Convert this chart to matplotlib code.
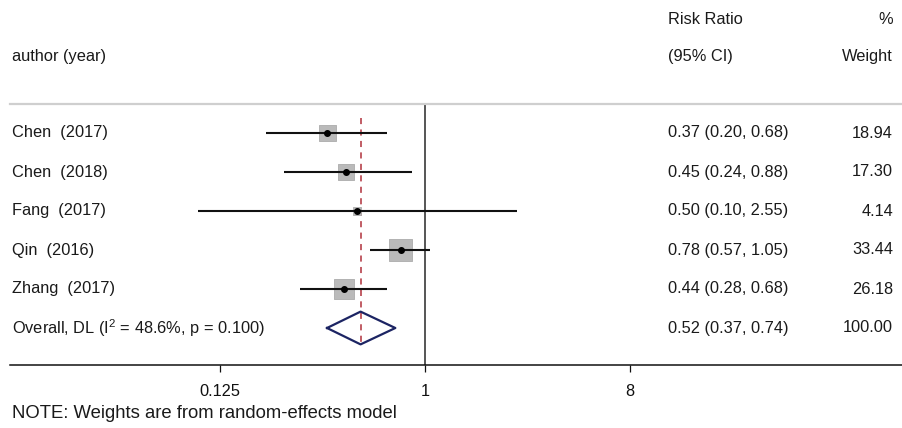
import numpy as np
import matplotlib
matplotlib.use("Agg")
import matplotlib.pyplot as plt
from matplotlib import transforms
from matplotlib.ticker import FixedLocator, FixedFormatter, NullLocator

plt.rcParams["font.family"] = ["Liberation Sans", "DejaVu Sans"]
plt.rcParams["mathtext.default"] = "regular"

# study data
studies = ["Chen  (2017)", "Chen  (2018)", "Fang  (2017)", "Qin  (2016)", "Zhang  (2017)"]
rr = [0.37, 0.45, 0.50, 0.78, 0.44]
lo = [0.20, 0.24, 0.10, 0.57, 0.28]
hi = [0.68, 0.88, 2.55, 1.05, 0.68]
weights = [18.94, 17.30, 4.14, 33.44, 26.18]

overall_label = "Overall, DL (I$^{2}$ = 48.6%, p = 0.100)"
overall_rr, overall_lo, overall_hi = 0.52, 0.37, 0.74

tick_vals = [0.125, 1, 8]
tick_labels = ["0.125", "1", "8"]

W, H = 903, 428
fig = plt.figure(figsize=(W / 100, H / 100), dpi=100)

# plot area: x from 10px to right edge, y from 104px (header rule) to 365px (axis)
ax = fig.add_axes([10 / W, (H - 365) / H, 1 - 10 / W, (365 - 104) / H])
ax.set_xscale("log", base=2)
px_per_log2 = 68.3
x_one = 425
ax.set_xlim(2 ** ((10 - x_one) / px_per_log2), 2 ** ((W - x_one) / px_per_log2))
row0, row_h = 133, 39.0
ax.set_ylim((365 - row0) / row_h, (104 - row0) / row_h)

for s in ["left", "right"]:
    ax.spines[s].set_visible(False)
ax.spines["top"].set_color("#cfcfcf")
ax.spines["top"].set_linewidth(1.6)
ax.spines["bottom"].set_color("#111111")
ax.spines["bottom"].set_linewidth(1.1)
ax.yaxis.set_major_locator(NullLocator())
ax.xaxis.set_major_locator(FixedLocator(tick_vals))
ax.xaxis.set_major_formatter(FixedFormatter(tick_labels))
ax.xaxis.set_minor_locator(NullLocator())
ax.tick_params(axis="x", length=5, width=0.9, pad=9, labelsize=11.8, colors="#111111")

ys = np.arange(len(studies))
y_over = len(studies)

# null line
ax.axvline(1, color="#555555", lw=1.4, zorder=1)
# pooled estimate dashed line
ax.plot([overall_rr, overall_rr], [(118 - row0) / row_h, y_over + 0.42],
        color="#b0303a", lw=1.1, ls=(0, (4, 3.5)), zorder=2)

# boxes sized by weight
side_px = 3.9 * np.sqrt(weights)
ax.scatter(rr, ys, marker="s", s=(side_px * 0.72) ** 2, color="#bababa",
           edgecolor="#acacac", linewidth=0.6, zorder=3)
ax.hlines(ys, lo, hi, color="#111111", lw=1.5, zorder=4)
ax.scatter(rr, ys, s=16, color="#000000", zorder=5)

# overall diamond
dx = [overall_lo, overall_rr, overall_hi, overall_rr, overall_lo]
dy = [y_over, y_over - 0.42, y_over, y_over + 0.42, y_over]
ax.plot(dx, dy, color="#1c2463", lw=1.6, zorder=4)

# text columns
tr = transforms.blended_transform_factory(fig.transFigure, ax.transData)
fs = 11.8
tc = "#1a1a1a"
x_lab, x_ci, x_w = 12 / W, 668 / W, 893 / W
for i, name in enumerate(studies):
    ax.text(x_lab, i, name, transform=tr, ha="left", va="center", fontsize=fs, color=tc)
    ax.text(x_ci, i, f"{rr[i]:.2f} ({lo[i]:.2f}, {hi[i]:.2f})", transform=tr,
            ha="left", va="center", fontsize=fs, color=tc)
    ax.text(x_w, i, f"{weights[i]:.2f}", transform=tr, ha="right", va="center",
            fontsize=fs, color=tc)
ax.text(x_lab, y_over, overall_label, transform=tr, ha="left", va="center",
        fontsize=fs, color=tc)
ax.text(x_ci, y_over, f"{overall_rr:.2f} ({overall_lo:.2f}, {overall_hi:.2f})",
        transform=tr, ha="left", va="center", fontsize=fs, color=tc)
ax.text(x_w, y_over, f"{sum(weights):.2f}", transform=tr, ha="right", va="center",
        fontsize=fs, color=tc)

# headers
fig.text(x_lab, 1 - 57 / H, "author (year)", ha="left", va="center", fontsize=fs, color=tc)
fig.text(x_ci, 1 - 19 / H, "Risk Ratio", ha="left", va="center", fontsize=fs, color=tc)
fig.text(x_ci, 1 - 57 / H, "(95% CI)", ha="left", va="center", fontsize=fs, color=tc)
fig.text(x_w, 1 - 19 / H, "%", ha="right", va="center", fontsize=fs, color=tc)
fig.text(x_w, 1 - 57 / H, "Weight", ha="right", va="center", fontsize=fs, color=tc)

fig.text(x_lab, 1 - 413 / H, "NOTE: Weights are from random-effects model",
         ha="left", va="center", fontsize=13.3, color=tc)

fig.savefig("out.png", dpi=100)
